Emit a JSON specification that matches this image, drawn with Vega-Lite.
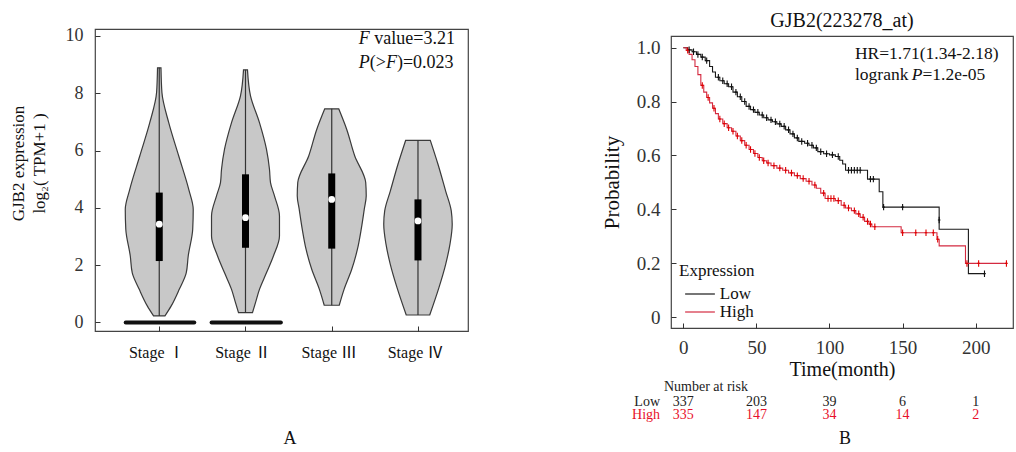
{
  "$schema": "https://vega.github.io/schema/vega-lite/v6.json",
  "padding": {"left": 8, "top": 10, "right": 3, "bottom": 5},
  "config": {
    "font": "Liberation Serif",
    "view": {"stroke": "#444", "strokeWidth": 1.2},
    "axis": {"domain": false, "grid": false, "tickColor": "#333", "labelColor": "#333", "titleColor": "#111", "titleFontWeight": "normal", "labelFont": "Liberation Serif, Noto Sans CJK SC", "titleFont": "Liberation Serif"},
    "legend": {"titleFontWeight": "normal", "titleColor": "#111", "labelColor": "#111"},
    "title": {"fontWeight": "normal", "color": "#111"}
  },
  "datasets": {
    "violin": [
      {"stage": "I", "v": 8.89, "lo": 0.980, "hi": 1.020},
      {"stage": "I", "v": 8.025, "lo": 0.969, "hi": 1.031},
      {"stage": "I", "v": 6.974, "lo": 0.890, "hi": 1.110},
      {"stage": "I", "v": 5.811, "lo": 0.774, "hi": 1.226},
      {"stage": "I", "v": 4.647, "lo": 0.658, "hi": 1.342},
      {"stage": "I", "v": 3.947, "lo": 0.606, "hi": 1.394},
      {"stage": "I", "v": 3.257, "lo": 0.612, "hi": 1.388},
      {"stage": "I", "v": 2.32, "lo": 0.664, "hi": 1.336},
      {"stage": "I", "v": 1.733, "lo": 0.687, "hi": 1.313},
      {"stage": "I", "v": 1.157, "lo": 0.768, "hi": 1.232},
      {"stage": "I", "v": 0.58, "lo": 0.861, "hi": 1.139},
      {"stage": "I", "v": 0.23, "lo": 0.934, "hi": 1.066},
      {"stage": "II", "v": 8.818, "lo": 1.977, "hi": 2.023},
      {"stage": "II", "v": 7.911, "lo": 1.942, "hi": 2.058},
      {"stage": "II", "v": 6.974, "lo": 1.838, "hi": 2.162},
      {"stage": "II", "v": 6.048, "lo": 1.757, "hi": 2.243},
      {"stage": "II", "v": 5.347, "lo": 1.722, "hi": 2.278},
      {"stage": "II", "v": 4.884, "lo": 1.710, "hi": 2.290},
      {"stage": "II", "v": 4.421, "lo": 1.664, "hi": 2.336},
      {"stage": "II", "v": 3.721, "lo": 1.606, "hi": 2.394},
      {"stage": "II", "v": 3.02, "lo": 1.606, "hi": 2.394},
      {"stage": "II", "v": 2.32, "lo": 1.676, "hi": 2.324},
      {"stage": "II", "v": 1.733, "lo": 1.757, "hi": 2.243},
      {"stage": "II", "v": 1.157, "lo": 1.838, "hi": 2.162},
      {"stage": "II", "v": 0.693, "lo": 1.884, "hi": 2.116},
      {"stage": "II", "v": 0.343, "lo": 1.919, "hi": 2.081},
      {"stage": "III", "v": 7.458, "lo": 2.919, "hi": 3.081},
      {"stage": "III", "v": 6.738, "lo": 2.826, "hi": 3.174},
      {"stage": "III", "v": 5.811, "lo": 2.733, "hi": 3.267},
      {"stage": "III", "v": 4.884, "lo": 2.606, "hi": 3.394},
      {"stage": "III", "v": 4.421, "lo": 2.600, "hi": 3.400},
      {"stage": "III", "v": 3.947, "lo": 2.623, "hi": 3.377},
      {"stage": "III", "v": 3.257, "lo": 2.658, "hi": 3.342},
      {"stage": "III", "v": 2.557, "lo": 2.702, "hi": 3.298},
      {"stage": "III", "v": 1.857, "lo": 2.768, "hi": 3.232},
      {"stage": "III", "v": 1.157, "lo": 2.857, "hi": 3.143},
      {"stage": "III", "v": 0.601, "lo": 2.913, "hi": 3.087},
      {"stage": "IV", "v": 6.357, "lo": 3.857, "hi": 4.143},
      {"stage": "IV", "v": 5.522, "lo": 3.768, "hi": 4.232},
      {"stage": "IV", "v": 4.586, "lo": 3.679, "hi": 4.321},
      {"stage": "IV", "v": 3.896, "lo": 3.614, "hi": 4.386},
      {"stage": "IV", "v": 3.432, "lo": 3.603, "hi": 4.397},
      {"stage": "IV", "v": 2.732, "lo": 3.629, "hi": 4.371},
      {"stage": "IV", "v": 2.032, "lo": 3.679, "hi": 4.321},
      {"stage": "IV", "v": 1.218, "lo": 3.757, "hi": 4.243},
      {"stage": "IV", "v": 0.261, "lo": 3.864, "hi": 4.136}
    ],
    "box": [
      {"pos": 1, "mn": 0.23, "mx": 8.89, "q1": 2.145, "q3": 4.534, "med": 3.432},
      {"pos": 2, "mn": 0.343, "mx": 8.818, "q1": 2.608, "q3": 5.172, "med": 3.659},
      {"pos": 3, "mn": 0.601, "mx": 7.458, "q1": 2.578, "q3": 5.203, "med": 4.297},
      {"pos": 4, "mn": 0.261, "mx": 6.357, "q1": 2.166, "q3": 4.297, "med": 3.545}
    ],
    "zerobar": [
      {"lo": 0.611, "hi": 1.406},
      {"lo": 1.607, "hi": 2.410}
    ],
    "km": [
      {"group": "Low", "t": 0, "p": 1.0}, {"group": "Low", "t": 3, "p": 0.992}, {"group": "Low", "t": 6, "p": 0.985},
      {"group": "Low", "t": 9, "p": 0.975}, {"group": "Low", "t": 12, "p": 0.965}, {"group": "Low", "t": 15, "p": 0.952},
      {"group": "Low", "t": 18, "p": 0.93}, {"group": "Low", "t": 20, "p": 0.91}, {"group": "Low", "t": 22, "p": 0.89},
      {"group": "Low", "t": 25, "p": 0.877}, {"group": "Low", "t": 28, "p": 0.866}, {"group": "Low", "t": 31, "p": 0.855},
      {"group": "Low", "t": 34, "p": 0.835}, {"group": "Low", "t": 37, "p": 0.818}, {"group": "Low", "t": 40, "p": 0.80},
      {"group": "Low", "t": 43, "p": 0.782}, {"group": "Low", "t": 46, "p": 0.77}, {"group": "Low", "t": 49, "p": 0.76},
      {"group": "Low", "t": 52, "p": 0.75}, {"group": "Low", "t": 55, "p": 0.74}, {"group": "Low", "t": 58, "p": 0.732},
      {"group": "Low", "t": 61, "p": 0.725}, {"group": "Low", "t": 64, "p": 0.717}, {"group": "Low", "t": 67, "p": 0.708},
      {"group": "Low", "t": 70, "p": 0.695}, {"group": "Low", "t": 73, "p": 0.68}, {"group": "Low", "t": 76, "p": 0.665},
      {"group": "Low", "t": 79, "p": 0.652}, {"group": "Low", "t": 83, "p": 0.645}, {"group": "Low", "t": 86, "p": 0.638},
      {"group": "Low", "t": 89, "p": 0.628}, {"group": "Low", "t": 92, "p": 0.614}, {"group": "Low", "t": 96, "p": 0.606},
      {"group": "Low", "t": 100, "p": 0.602}, {"group": "Low", "t": 104, "p": 0.596}, {"group": "Low", "t": 107, "p": 0.582},
      {"group": "Low", "t": 109, "p": 0.568}, {"group": "Low", "t": 111, "p": 0.545}, {"group": "Low", "t": 126, "p": 0.512},
      {"group": "Low", "t": 134, "p": 0.465}, {"group": "Low", "t": 136.5, "p": 0.408}, {"group": "Low", "t": 175, "p": 0.326},
      {"group": "Low", "t": 195, "p": 0.161}, {"group": "Low", "t": 206, "p": 0.161},
      {"group": "High", "t": 0, "p": 1.0}, {"group": "High", "t": 2, "p": 0.99}, {"group": "High", "t": 4, "p": 0.975},
      {"group": "High", "t": 6, "p": 0.955}, {"group": "High", "t": 8, "p": 0.93}, {"group": "High", "t": 10, "p": 0.90},
      {"group": "High", "t": 12, "p": 0.86}, {"group": "High", "t": 14, "p": 0.835}, {"group": "High", "t": 16, "p": 0.815},
      {"group": "High", "t": 18, "p": 0.795}, {"group": "High", "t": 20, "p": 0.775}, {"group": "High", "t": 22, "p": 0.755},
      {"group": "High", "t": 24, "p": 0.735}, {"group": "High", "t": 27, "p": 0.718}, {"group": "High", "t": 30, "p": 0.703},
      {"group": "High", "t": 33, "p": 0.69}, {"group": "High", "t": 36, "p": 0.672}, {"group": "High", "t": 39, "p": 0.655},
      {"group": "High", "t": 42, "p": 0.638}, {"group": "High", "t": 45, "p": 0.622}, {"group": "High", "t": 48, "p": 0.607},
      {"group": "High", "t": 51, "p": 0.592}, {"group": "High", "t": 54, "p": 0.58}, {"group": "High", "t": 57, "p": 0.572},
      {"group": "High", "t": 60, "p": 0.562}, {"group": "High", "t": 64, "p": 0.553}, {"group": "High", "t": 68, "p": 0.545},
      {"group": "High", "t": 72, "p": 0.535}, {"group": "High", "t": 76, "p": 0.525}, {"group": "High", "t": 80, "p": 0.514},
      {"group": "High", "t": 84, "p": 0.504}, {"group": "High", "t": 88, "p": 0.49}, {"group": "High", "t": 91, "p": 0.478},
      {"group": "High", "t": 94, "p": 0.46}, {"group": "High", "t": 97, "p": 0.44}, {"group": "High", "t": 104, "p": 0.432},
      {"group": "High", "t": 108, "p": 0.415}, {"group": "High", "t": 111, "p": 0.405}, {"group": "High", "t": 115, "p": 0.395},
      {"group": "High", "t": 118, "p": 0.383}, {"group": "High", "t": 121, "p": 0.37}, {"group": "High", "t": 124, "p": 0.355},
      {"group": "High", "t": 127, "p": 0.345}, {"group": "High", "t": 129, "p": 0.335}, {"group": "High", "t": 149, "p": 0.313},
      {"group": "High", "t": 173.5, "p": 0.289}, {"group": "High", "t": 175, "p": 0.264}, {"group": "High", "t": 193, "p": 0.199},
      {"group": "High", "t": 221, "p": 0.199}
    ],
    "cens": [
      {"group": "Low", "t": 4, "p": 0.992}, {"group": "Low", "t": 7, "p": 0.985}, {"group": "Low", "t": 10, "p": 0.975},
      {"group": "Low", "t": 13, "p": 0.965}, {"group": "Low", "t": 16, "p": 0.952}, {"group": "Low", "t": 24, "p": 0.89},
      {"group": "Low", "t": 27, "p": 0.877}, {"group": "Low", "t": 30, "p": 0.866}, {"group": "Low", "t": 33, "p": 0.855},
      {"group": "Low", "t": 36, "p": 0.835}, {"group": "Low", "t": 39, "p": 0.818}, {"group": "Low", "t": 42, "p": 0.80},
      {"group": "Low", "t": 45, "p": 0.782}, {"group": "Low", "t": 48, "p": 0.77}, {"group": "Low", "t": 51, "p": 0.76},
      {"group": "Low", "t": 54, "p": 0.75}, {"group": "Low", "t": 57, "p": 0.74}, {"group": "Low", "t": 60, "p": 0.732},
      {"group": "Low", "t": 63, "p": 0.725}, {"group": "Low", "t": 66, "p": 0.717}, {"group": "Low", "t": 69, "p": 0.708},
      {"group": "Low", "t": 72, "p": 0.695}, {"group": "Low", "t": 75, "p": 0.68}, {"group": "Low", "t": 78, "p": 0.665},
      {"group": "Low", "t": 81, "p": 0.652}, {"group": "Low", "t": 85, "p": 0.645}, {"group": "Low", "t": 88, "p": 0.638},
      {"group": "Low", "t": 91, "p": 0.628}, {"group": "Low", "t": 94, "p": 0.614}, {"group": "Low", "t": 98, "p": 0.606},
      {"group": "Low", "t": 102, "p": 0.602}, {"group": "Low", "t": 106, "p": 0.596}, {"group": "Low", "t": 113, "p": 0.545},
      {"group": "Low", "t": 115, "p": 0.545}, {"group": "Low", "t": 117, "p": 0.545}, {"group": "Low", "t": 119, "p": 0.545},
      {"group": "Low", "t": 121, "p": 0.545}, {"group": "Low", "t": 128, "p": 0.512}, {"group": "Low", "t": 130, "p": 0.512},
      {"group": "Low", "t": 137, "p": 0.408}, {"group": "Low", "t": 150, "p": 0.408}, {"group": "Low", "t": 175, "p": 0.36},
      {"group": "Low", "t": 206, "p": 0.161},
      {"group": "High", "t": 3, "p": 0.99}, {"group": "High", "t": 13, "p": 0.86}, {"group": "High", "t": 17, "p": 0.815},
      {"group": "High", "t": 21, "p": 0.775}, {"group": "High", "t": 25, "p": 0.735}, {"group": "High", "t": 28, "p": 0.718},
      {"group": "High", "t": 31, "p": 0.703}, {"group": "High", "t": 34, "p": 0.69}, {"group": "High", "t": 37, "p": 0.672},
      {"group": "High", "t": 40, "p": 0.655}, {"group": "High", "t": 43, "p": 0.638}, {"group": "High", "t": 46, "p": 0.622},
      {"group": "High", "t": 49, "p": 0.607}, {"group": "High", "t": 52, "p": 0.592}, {"group": "High", "t": 55, "p": 0.58},
      {"group": "High", "t": 58, "p": 0.572}, {"group": "High", "t": 62, "p": 0.562}, {"group": "High", "t": 66, "p": 0.553},
      {"group": "High", "t": 70, "p": 0.545}, {"group": "High", "t": 74, "p": 0.535}, {"group": "High", "t": 78, "p": 0.525},
      {"group": "High", "t": 82, "p": 0.514}, {"group": "High", "t": 86, "p": 0.504}, {"group": "High", "t": 90, "p": 0.49},
      {"group": "High", "t": 96, "p": 0.46}, {"group": "High", "t": 99, "p": 0.44}, {"group": "High", "t": 101, "p": 0.44},
      {"group": "High", "t": 103, "p": 0.44}, {"group": "High", "t": 106, "p": 0.432}, {"group": "High", "t": 110, "p": 0.415},
      {"group": "High", "t": 113, "p": 0.405}, {"group": "High", "t": 117, "p": 0.395}, {"group": "High", "t": 120, "p": 0.383},
      {"group": "High", "t": 123, "p": 0.37}, {"group": "High", "t": 126, "p": 0.355}, {"group": "High", "t": 128, "p": 0.345},
      {"group": "High", "t": 131, "p": 0.335}, {"group": "High", "t": 150, "p": 0.313}, {"group": "High", "t": 159, "p": 0.313},
      {"group": "High", "t": 166, "p": 0.313}, {"group": "High", "t": 171, "p": 0.313}, {"group": "High", "t": 174, "p": 0.289},
      {"group": "High", "t": 194, "p": 0.199}, {"group": "High", "t": 202, "p": 0.199}, {"group": "High", "t": 221, "p": 0.199}
    ],
    "risk": [
      {"group": "Low", "t": 0, "n": 337}, {"group": "Low", "t": 50, "n": 203}, {"group": "Low", "t": 100, "n": 39},
      {"group": "Low", "t": 150, "n": 6}, {"group": "Low", "t": 200, "n": 1},
      {"group": "High", "t": 0, "n": 335}, {"group": "High", "t": 50, "n": 147}, {"group": "High", "t": 100, "n": 34},
      {"group": "High", "t": 150, "n": 14}, {"group": "High", "t": 200, "n": 2}
    ]
  },
  "hconcat": [
    {
      "width": 373,
      "height": 302,
      "layer": [
        {
          "data": {"name": "violin"},
          "mark": {"type": "area", "orient": "horizontal", "interpolate": "monotone", "fill": "#c8c8c8", "stroke": "#3a3a3a", "strokeWidth": 1.2},
          "encoding": {
            "y": {"field": "v", "type": "quantitative", "scale": {"domain": [-0.297, 10.244], "nice": false, "zero": false},
                  "axis": {"values": [0, 2, 4, 6, 8, 10], "tickSize": -5, "labelPadding": 17, "labelFontSize": 18,
                           "title": ["GJB2 expression", "log₂( TPM+1 )"], "titleFontSize": 17, "titleLineHeight": 21, "titlePadding": 17, "titleY": 134}},
            "x": {"field": "lo", "type": "quantitative", "scale": {"domain": [0.255, 4.58], "nice": false, "zero": false},
                  "axis": {"values": [1, 2, 3, 4], "tickSize": -5, "labelPadding": 18, "labelFontSize": 16, "labelColor": "#111", "labelOffset": -3,
                           "labelExpr": "datum.value == 1 ? 'Stage Ⅰ' : datum.value == 2 ? 'Stage Ⅱ' : datum.value == 3 ? 'Stage Ⅲ' : 'Stage Ⅳ'", "title": null}},
            "x2": {"field": "hi"},
            "detail": {"field": "stage", "type": "nominal"}
          }
        },
        {
          "data": {"name": "box"},
          "mark": {"type": "rule", "stroke": "#333", "strokeWidth": 1.2},
          "encoding": {"x": {"field": "pos", "type": "quantitative"}, "y": {"field": "mn", "type": "quantitative"}, "y2": {"field": "mx"}}
        },
        {
          "data": {"name": "box"},
          "mark": {"type": "rule", "stroke": "#000", "strokeWidth": 7},
          "encoding": {"x": {"field": "pos", "type": "quantitative"}, "y": {"field": "q1", "type": "quantitative"}, "y2": {"field": "q3"}}
        },
        {
          "data": {"name": "box"},
          "mark": {"type": "point", "filled": true, "color": "#fff", "size": 45, "opacity": 1},
          "encoding": {"x": {"field": "pos", "type": "quantitative"}, "y": {"field": "med", "type": "quantitative"}}
        },
        {
          "data": {"name": "zerobar"},
          "mark": {"type": "rule", "stroke": "#111", "strokeWidth": 4, "strokeCap": "round"},
          "encoding": {"x": {"field": "lo", "type": "quantitative"}, "x2": {"field": "hi"}, "y": {"datum": 0, "type": "quantitative"}}
        },
        {
          "data": {"values": [{"s": "F"}]},
          "mark": {"type": "text", "align": "left", "baseline": "alphabetic", "fontSize": 18, "fontStyle": "italic", "color": "#111"},
          "encoding": {"x": {"datum": 3.314}, "y": {"datum": 9.731}, "text": {"field": "s"}}
        },
        {
          "data": {"values": [{"s": "value=3.21"}]},
          "mark": {"type": "text", "align": "left", "baseline": "alphabetic", "fontSize": 18, "color": "#111"},
          "encoding": {"x": {"datum": 3.494}, "y": {"datum": 9.731}, "text": {"field": "s"}}
        },
        {
          "data": {"values": [{"s": "P"}]},
          "mark": {"type": "text", "align": "left", "baseline": "alphabetic", "fontSize": 18, "fontStyle": "italic", "color": "#111"},
          "encoding": {"x": {"datum": 3.314}, "y": {"datum": 8.894}, "text": {"field": "s"}}
        },
        {
          "data": {"values": [{"s": "(>"}]},
          "mark": {"type": "text", "align": "left", "baseline": "alphabetic", "fontSize": 18, "color": "#111"},
          "encoding": {"x": {"datum": 3.442}, "y": {"datum": 8.894}, "text": {"field": "s"}}
        },
        {
          "data": {"values": [{"s": "F"}]},
          "mark": {"type": "text", "align": "left", "baseline": "alphabetic", "fontSize": 18, "fontStyle": "italic", "color": "#111"},
          "encoding": {"x": {"datum": 3.629}, "y": {"datum": 8.894}, "text": {"field": "s"}}
        },
        {
          "data": {"values": [{"s": ")=0.023"}]},
          "mark": {"type": "text", "align": "left", "baseline": "alphabetic", "fontSize": 18, "color": "#111"},
          "encoding": {"x": {"datum": 3.756}, "y": {"datum": 8.894}, "text": {"field": "s"}}
        },
        {
          "data": {"values": [{"s": "A"}]},
          "mark": {"type": "text", "align": "center", "baseline": "middle", "fontSize": 18, "color": "#111"},
          "encoding": {"x": {"datum": 2.517}, "y": {"datum": -4.066}, "text": {"field": "s"}}
        }
      ]
    },
    {
      "bounds": "flush",
      "spacing": 0,
      "vconcat": [
        {
          "width": 342,
          "height": 7,
          "view": {"stroke": null},
          "data": {"values": [{}]},
          "mark": {"type": "point", "opacity": 0},
          "encoding": {}
        },
        {
          "width": 342,
          "height": 292,
          "title": {"text": "GJB2(223278_at)", "fontSize": 20, "offset": 5},
          "layer": [
            {
              "data": {"name": "km"},
              "mark": {"type": "line", "interpolate": "step-after", "strokeWidth": 1.1},
              "encoding": {
                "x": {"field": "t", "type": "quantitative", "scale": {"domain": [-8.4, 225.5], "nice": false, "zero": false},
                      "axis": {"values": [0, 50, 100, 150, 200], "tickSize": -5, "labelPadding": 15, "labelFontSize": 19,
                               "title": "Time(month)", "titleFontSize": 20, "titlePadding": 2}},
                "y": {"field": "p", "type": "quantitative", "scale": {"domain": [-0.0408, 1.0434], "nice": false, "zero": false},
                      "axis": {"values": [0, 0.2, 0.4, 0.6, 0.8, 1], "labelExpr": "datum.value == 0 ? '0' : format(datum.value, '.1f')",
                               "tickSize": -5, "labelPadding": 16, "labelFontSize": 19, "title": "Probability", "titleFontSize": 21, "titlePadding": 14}},
                "color": {"field": "group", "type": "nominal", "scale": {"domain": ["Low", "High"], "range": ["#1a1a1a", "#d42a40"]},
                          "legend": {"title": "Expression", "orient": "none", "legendX": 584, "legendY": 234, "symbolType": "M-1.75,0H1.75", "symbolSize": 289,
                                     "symbolOffset": 11.5, "symbolStrokeWidth": 1.2, "titleFontSize": 17, "labelFontSize": 17, "titlePadding": 4.5, "rowPadding": 0,
                                     "labelOffset": 10.3, "padding": 0}}
              }
            },
            {
              "data": {"name": "cens"},
              "mark": {"type": "point", "shape": "M0,-1V1M-0.4,0H0.4", "filled": false, "size": 42, "strokeWidth": 1.1, "opacity": 1},
              "encoding": {
                "x": {"field": "t", "type": "quantitative"},
                "y": {"field": "p", "type": "quantitative"},
                "stroke": {"field": "group", "type": "nominal", "scale": {"domain": ["Low", "High"], "range": ["#111", "#e00000"]}, "legend": null}
              }
            },
            {
              "data": {"values": [{"s": "HR=1.71(1.34-2.18)"}]},
              "mark": {"type": "text", "align": "left", "baseline": "alphabetic", "fontSize": 17.5, "color": "#111"},
              "encoding": {"x": {"datum": 117.4}, "y": {"datum": 0.958}, "text": {"field": "s"}}
            },
            {
              "data": {"values": [{"s": "logrank"}]},
              "mark": {"type": "text", "align": "left", "baseline": "alphabetic", "fontSize": 17.5, "color": "#111"},
              "encoding": {"x": {"datum": 117.4}, "y": {"datum": 0.88}, "text": {"field": "s"}}
            },
            {
              "data": {"values": [{"s": "P"}]},
              "mark": {"type": "text", "align": "left", "baseline": "alphabetic", "fontSize": 17.5, "fontStyle": "italic", "color": "#111"},
              "encoding": {"x": {"datum": 156.2}, "y": {"datum": 0.88}, "text": {"field": "s"}}
            },
            {
              "data": {"values": [{"s": "=1.2e-05"}]},
              "mark": {"type": "text", "align": "left", "baseline": "alphabetic", "fontSize": 17.5, "color": "#111"},
              "encoding": {"x": {"datum": 163.6}, "y": {"datum": 0.88}, "text": {"field": "s"}}
            },
            {
              "data": {"values": [{"s": "Number at risk"}]},
              "mark": {"type": "text", "align": "left", "baseline": "middle", "fontSize": 14, "color": "#222"},
              "encoding": {"x": {"datum": -13.2}, "y": {"datum": -0.259}, "text": {"field": "s"}}
            },
            {
              "data": {"values": [{"s": "Low"}]},
              "mark": {"type": "text", "align": "right", "baseline": "middle", "fontSize": 14, "color": "#222"},
              "encoding": {"x": {"datum": -15.9}, "y": {"datum": -0.3156}, "text": {"field": "s"}}
            },
            {
              "data": {"values": [{"s": "High"}]},
              "mark": {"type": "text", "align": "right", "baseline": "middle", "fontSize": 14, "color": "#e8102a"},
              "encoding": {"x": {"datum": -15.9}, "y": {"datum": -0.364}, "text": {"field": "s"}}
            },
            {
              "data": {"name": "risk"},
              "transform": [{"filter": "datum.group == 'Low'"}],
              "mark": {"type": "text", "align": "center", "baseline": "middle", "fontSize": 14, "color": "#222"},
              "encoding": {"x": {"field": "t", "type": "quantitative"}, "y": {"datum": -0.3156}, "text": {"field": "n", "type": "quantitative"}}
            },
            {
              "data": {"name": "risk"},
              "transform": [{"filter": "datum.group == 'High'"}],
              "mark": {"type": "text", "align": "center", "baseline": "middle", "fontSize": 14, "color": "#e8102a"},
              "encoding": {"x": {"field": "t", "type": "quantitative"}, "y": {"datum": -0.364}, "text": {"field": "n", "type": "quantitative"}}
            },
            {
              "data": {"values": [{"s": "B"}]},
              "mark": {"type": "text", "align": "center", "baseline": "middle", "fontSize": 18, "color": "#111"},
              "encoding": {"x": {"datum": 110.6}, "y": {"datum": -0.453}, "text": {"field": "s"}}
            }
          ]
        }
      ]
    }
  ],
  "spacing": 203,
  "bounds": "flush"
}
